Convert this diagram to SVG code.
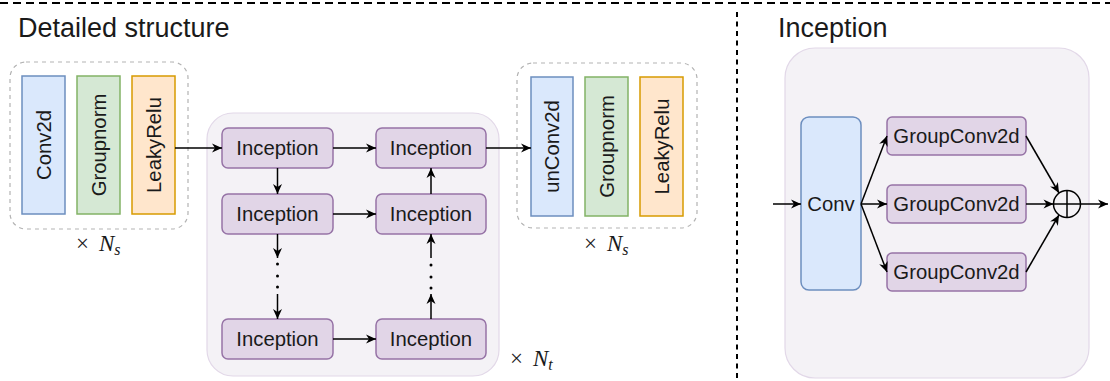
<svg xmlns="http://www.w3.org/2000/svg" width="1110" height="381" viewBox="0 0 1110 381">
  <defs>
    <marker id="arrow" markerUnits="userSpaceOnUse" markerWidth="12" markerHeight="12" refX="11" refY="6" orient="auto">
      <path d="M1,1.5 L11,6 L1,10.5 L4,6 Z" fill="#000"/>
    </marker>
    <style>
      .lbl { font-family: "Liberation Sans", Arial, sans-serif; fill: #1a1a1a; }
      .title { font-size: 27px; }
      .node { font-size: 20.3px; text-anchor: middle; dominant-baseline: central; }
      .math { font-family: "Liberation Serif", "DejaVu Serif", serif; fill: #1a1a1a; font-size: 23px; }
      .group { fill: #ffffff; stroke: #b3b3b3; stroke-width: 1.2; stroke-dasharray: 4 4; }
      .panel { fill: #f4f2f6; stroke: #e2d8e8; stroke-width: 1.2; }
      .blue { fill: #dae8fc; stroke: #6c8ebf; stroke-width: 1.5; }
      .green { fill: #d5e8d4; stroke: #82b366; stroke-width: 1.5; }
      .orange { fill: #ffe6cc; stroke: #d79b00; stroke-width: 1.5; }
      .purple { fill: #e1d5e7; stroke: #9673a6; stroke-width: 1.5; }
      .edge { fill: none; stroke: #000; stroke-width: 1.5; marker-end: url(#arrow); }
      .sep { fill: none; stroke: #000; stroke-width: 2; }
    </style>
  </defs>

  <!-- section separators -->
  <g id="separators">
    <line class="sep" x1="0" y1="3" x2="1110" y2="3" stroke-dasharray="8 5"/>
    <line class="sep" x1="737" y1="12" x2="737" y2="381" stroke-dasharray="5 4.5"/>
  </g>

  <!-- section titles -->
  <text class="lbl title" x="18" y="37">Detailed structure</text>
  <text class="lbl title" x="778" y="37">Inception</text>

  <!-- encoder block: Conv2d / Groupnorm / LeakyRelu -->
  <g id="encoder-block">
    <rect class="group" x="10" y="62" width="178" height="167" rx="16"/>
    <text class="math" x="76" y="251">×</text>
    <text class="math" x="99" y="251" font-style="italic">N<tspan font-size="16" dy="4">s</tspan></text>
  </g>
  <g id="conv2d">
    <rect class="blue" x="22" y="76" width="43" height="138"/>
    <text class="lbl node" transform="translate(43.5,145) rotate(-90)">Conv2d</text>
  </g>
  <g id="groupnorm-1">
    <rect class="green" x="77" y="76" width="43" height="138"/>
    <text class="lbl node" transform="translate(98.5,145) rotate(-90)">Groupnorm</text>
  </g>
  <g id="leakyrelu-1">
    <rect class="orange" x="132" y="76" width="43" height="138"/>
    <text class="lbl node" transform="translate(153.5,145) rotate(-90)">LeakyRelu</text>
  </g>

  <!-- translator block of stacked Inception modules -->
  <g id="translator-block">
    <rect class="panel" x="207" y="113" width="292" height="263" rx="26"/>
    <text class="math" x="510" y="366">×</text>
    <text class="math" x="533" y="366" font-style="italic">N<tspan font-size="16" dy="4">t</tspan></text>
  </g>
  <g id="inception-l1">
    <rect class="purple" x="222" y="128" width="111" height="40" rx="6"/>
    <text class="lbl node" x="277.5" y="148">Inception</text>
  </g>
  <g id="inception-l2">
    <rect class="purple" x="222" y="194" width="111" height="40" rx="6"/>
    <text class="lbl node" x="277.5" y="214">Inception</text>
  </g>
  <g id="inception-l3">
    <rect class="purple" x="222" y="319" width="111" height="40" rx="6"/>
    <text class="lbl node" x="277.5" y="339">Inception</text>
  </g>
  <g id="inception-r1">
    <rect class="purple" x="376" y="128" width="110" height="40" rx="6"/>
    <text class="lbl node" x="431" y="148">Inception</text>
  </g>
  <g id="inception-r2">
    <rect class="purple" x="376" y="194" width="110" height="40" rx="6"/>
    <text class="lbl node" x="431" y="214">Inception</text>
  </g>
  <g id="inception-r3">
    <rect class="purple" x="376" y="319" width="110" height="40" rx="6"/>
    <text class="lbl node" x="431" y="339">Inception</text>
  </g>

  <!-- decoder block: unConv2d / Groupnorm / LeakyRelu -->
  <g id="decoder-block">
    <rect class="group" x="517" y="63" width="180" height="165" rx="16"/>
    <text class="math" x="584" y="251">×</text>
    <text class="math" x="607" y="251" font-style="italic">N<tspan font-size="16" dy="4">s</tspan></text>
  </g>
  <g id="unconv2d">
    <rect class="blue" x="531" y="77" width="42" height="139"/>
    <text class="lbl node" transform="translate(552,146.5) rotate(-90)">unConv2d</text>
  </g>
  <g id="groupnorm-2">
    <rect class="green" x="585" y="77" width="43" height="139"/>
    <text class="lbl node" transform="translate(606.5,146.5) rotate(-90)">Groupnorm</text>
  </g>
  <g id="leakyrelu-2">
    <rect class="orange" x="640" y="77" width="43" height="139"/>
    <text class="lbl node" transform="translate(661.5,146.5) rotate(-90)">LeakyRelu</text>
  </g>

  <!-- Inception module detail -->
  <g id="inception-panel">
    <rect class="panel" x="785" y="48" width="304" height="330" rx="30"/>
  </g>
  <g id="conv">
    <rect class="blue" x="801" y="117" width="60" height="173" rx="8"/>
    <text class="lbl node" x="831" y="204">Conv</text>
  </g>
  <g id="groupconv-1">
    <rect class="purple" x="887" y="117" width="139" height="38" rx="5"/>
    <text class="lbl node" x="956.5" y="136">GroupConv2d</text>
  </g>
  <g id="groupconv-2">
    <rect class="purple" x="887" y="185" width="139" height="38" rx="5"/>
    <text class="lbl node" x="956.5" y="204">GroupConv2d</text>
  </g>
  <g id="groupconv-3">
    <rect class="purple" x="887" y="253" width="139" height="38" rx="5"/>
    <text class="lbl node" x="956.5" y="272">GroupConv2d</text>
  </g>
  <g id="sum">
    <circle cx="1067" cy="204" r="13.5" fill="none" stroke="#000" stroke-width="1.5"/>
    <line x1="1053.5" y1="204" x2="1080.5" y2="204" stroke="#000" stroke-width="1.5"/>
    <line x1="1067" y1="190.5" x2="1067" y2="217.5" stroke="#000" stroke-width="1.5"/>
  </g>

  <!-- connectors -->
  <g id="connectors">
    <line class="edge" x1="175" y1="148" x2="222" y2="148"/>
    <line class="edge" x1="333" y1="148" x2="376" y2="148"/>
    <line class="edge" x1="333" y1="214" x2="376" y2="214"/>
    <line class="edge" x1="333" y1="339" x2="376" y2="339"/>
    <line class="edge" x1="486" y1="148" x2="531" y2="148"/>
    <!-- left column, downward -->
    <line class="edge" x1="277.5" y1="168" x2="277.5" y2="194"/>
    <line class="edge" x1="277.5" y1="234" x2="277.5" y2="258"/>
    <line class="edge" x1="277.5" y1="294" x2="277.5" y2="319"/>
    <!-- right column, upward -->
    <line class="edge" x1="431" y1="194" x2="431" y2="168"/>
    <line class="edge" x1="431" y1="319" x2="431" y2="294"/>
    <line class="edge" x1="431" y1="258" x2="431" y2="234"/>
    <g fill="#000">
      <circle cx="277.5" cy="264" r="1.5"/>
      <circle cx="277.5" cy="276" r="1.5"/>
      <circle cx="277.5" cy="287" r="1.5"/>
      <circle cx="431" cy="265" r="1.5"/>
      <circle cx="431" cy="277" r="1.5"/>
      <circle cx="431" cy="288" r="1.5"/>
    </g>
    <!-- inception module flow -->
    <line class="edge" x1="773" y1="204" x2="801" y2="204"/>
    <line class="edge" x1="861" y1="204" x2="887" y2="136"/>
    <line class="edge" x1="861" y1="204" x2="887" y2="204"/>
    <line class="edge" x1="861" y1="204" x2="887" y2="272"/>
    <line class="edge" x1="1026" y1="136" x2="1059" y2="193"/>
    <line class="edge" x1="1026" y1="204" x2="1053.5" y2="204"/>
    <line class="edge" x1="1026" y1="272" x2="1059" y2="215"/>
    <line class="edge" x1="1080.5" y1="204" x2="1108" y2="204"/>
  </g>
</svg>
